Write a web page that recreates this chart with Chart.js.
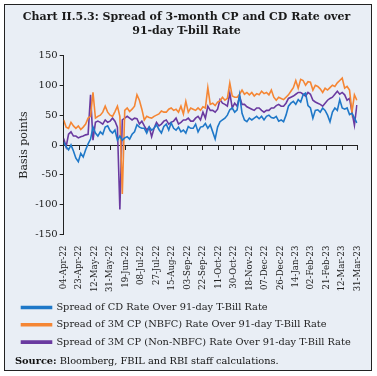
<!DOCTYPE html>
<html>
<head>
<meta charset="utf-8">
<script src="https://cdn.jsdelivr.net/npm/chart.js@4.4.0/dist/chart.umd.min.js"></script>
<style>
  html, body { margin: 0; padding: 0; background: #fff; }
  #box {
    position: absolute; left: 4px; top: 4px; width: 366px; height: 365px;
    border: 1.5px solid #222; background: #e9eef5;
  }
  #wrap { position: absolute; left: 0; top: 0; width: 366px; height: 352px; }
  #source {
    position: absolute; left: 10px; top: 350px;
    font-family: "DejaVu Serif", serif; font-size: 9.8px; color: #111;
  }
</style>
</head>
<body>
<div id="box">
  <div id="wrap"><canvas id="spreadChart"></canvas></div>
  <div id="source"><b>Source:</b> Bloomberg, FBIL and RBI staff calculations.</div>
</div>
<script>
// x tick labels, one every 19 days from 04-Apr-22
const tickLabels = ['04-Apr-22', '23-Apr-22', '12-May-22', '31-May-22', '19-Jun-22', '08-Jul-22',
  '27-Jul-22', '15-Aug-22', '03-Sep-22', '22-Sep-22', '11-Oct-22', '30-Oct-22', '18-Nov-22',
  '07-Dec-22', '26-Dec-22', '14-Jan-23', '02-Feb-23', '21-Feb-23', '12-Mar-23', '31-Mar-23'];

// observation days (days since 04-Apr-22), sampled every 3 days
const days = Array.from({ length: 121 }, (_, i) => i * 3);

// spread of CD rate over 91-day T-bill (bps)
const cdSpread = [
  5, -3, -8, 0, -10, -22, -28, -14, -20, -8,
  2, 10, 30, 20, 15, 22, 18, 30, 32, 24,
  20, 25, 8, 15, 8, 12, 14, 10, 18, 22,
  34, 30, 28, 28, 20, 30, 25, 28, 34, 26,
  20, 31, 35, 25, 37, 28, 25, 30, 22, 25,
  20, 31, 28, 28, 35, 22, 30, 31, 36, 28,
  34, 22, 10, 30, 39, 42, 45, 50, 59, 62,
  55, 59, 84, 53, 42, 39, 45, 42, 45, 48,
  44, 48, 42, 48, 50, 46, 45, 48, 40, 42,
  39, 50, 65, 70, 73, 68, 76, 72, 84, 87,
  66, 62, 45, 58, 59, 55, 62, 58, 50, 39,
  55, 62, 58, 76, 62, 60, 62, 51, 53, 45,
  37
];

// spread of 3M CP (NBFC) over 91-day T-bill (bps)
const cpNbfcSpread = [
  42, 30, 28, 38, 32, 28, 32, 26, 30, 35,
  45, 48, 88, 45, 48, 50, 55, 65, 55, 50,
  48, 56, 65, 48, -82, 58, 62, 56, 60, 65,
  84, 75, 60, 42, 48, 46, 45, 48, 50, 52,
  57, 55, 55, 60, 62, 58, 60, 55, 65, 52,
  73, 55, 62, 60, 58, 62, 58, 64, 62, 96,
  68, 70, 66, 72, 74, 80, 75, 78, 104, 82,
  80, 80, 85, 92, 85, 88, 84, 88, 82, 86,
  84, 90, 86, 88, 84, 92, 80, 75, 80, 78,
  76, 80, 84, 90, 96, 108, 95, 110, 108, 100,
  106, 105, 92, 100, 98, 94, 88, 95, 92, 96,
  100, 98, 104, 108, 112, 95, 98, 92, 55, 84,
  75
];

// spread of 3M CP (non-NBFC) over 91-day T-bill (bps)
const cpNonNbfcSpread = [
  11, -3, 18, 22, 15, 15, 12, 14, 15, 17,
  18, 84, 8, 38, 40, 38, 35, 42, 38, 40,
  45, 40, 30, -108, 42, 45, 48, 45, 42, 45,
  44, 35, 40, 32, 25, 30, 14, 28, 38, 32,
  35, 40, 42, 35, 38, 40, 45, 35, 38, 42,
  42, 45, 40, 40, 45, 48, 42, 55, 45, 65,
  58, 58, 55, 60, 76, 70, 68, 65, 87, 62,
  70, 65, 82, 68, 68, 64, 62, 60, 58, 62,
  62, 58, 55, 58, 58, 62, 62, 66, 68, 65,
  65, 70, 78, 80, 82, 85, 88, 88, 85, 82,
  88, 85, 75, 72, 70, 68, 65, 70, 75, 78,
  80, 85, 90, 85, 88, 84, 75, 78, 55, 33,
  67
];

const yTicks = [150, 100, 50, 0, -50, -100, -150];

function toPoints(vals) {
  return vals.map((v, i) => ({ x: days[i], y: v }));
}

const serif = '"DejaVu Serif", serif';
Chart.defaults.font.family = serif;
Chart.defaults.color = '#222';

const ctx = document.getElementById('spreadChart').getContext('2d');
new Chart(ctx, {
  type: 'line',
  data: {
    datasets: [
      { label: 'Spread of CD Rate Over 91-day T-Bill Rate', data: toPoints(cdSpread),
        borderColor: '#1f78c8', backgroundColor: '#1f78c8' },
      { label: 'Spread of 3M CP (NBFC) Rate Over 91-day T-Bill Rate', data: toPoints(cpNbfcSpread),
        borderColor: '#f58634', backgroundColor: '#f58634' },
      { label: 'Spread of 3M CP (Non-NBFC) Rate Over 91-day T-Bill Rate', data: toPoints(cpNonNbfcSpread),
        borderColor: '#6a3aa0', backgroundColor: '#6a3aa0' }
    ]
  },
  options: {
    responsive: true,
    maintainAspectRatio: false,
    animation: false,
    elements: {
      point: { radius: 0 },
      line: { borderWidth: 1.6, tension: 0 }
    },
    layout: { padding: { left: 9, right: 12, top: 2, bottom: 0 } },
    plugins: {
      title: {
        display: true,
        text: ['Chart II.5.3: Spread of 3-month CP and CD Rate over', '91-day T-bill Rate'],
        font: { size: 11, weight: 'bold', family: serif },
        color: '#1a1a1a',
        padding: { top: 4, bottom: 18 },
        lineHeight: 1.25
      },
      legend: {
        position: 'bottom',
        align: 'start',
        labels: {
          boxWidth: 30,
          boxHeight: 2,
          padding: 7.5,
          font: { size: 9.8, family: serif },
          color: '#222'
        }
      },
      tooltip: { enabled: false }
    },
    scales: {
      x: {
        type: 'linear',
        min: 0,
        max: 361,
        afterBuildTicks: (s) => { s.ticks = tickLabels.map((t, i) => ({ value: i * 19 })); },
        ticks: {
          minRotation: 90,
          maxRotation: 90,
          padding: 3,
          font: { size: 8.6 },
          callback: (v, i) => tickLabels[i]
        },
        grid: { display: false },
        border: { display: false }
      },
      xZero: {
        type: 'linear',
        axis: 'x',
        position: { y: 0 },
        min: 0,
        max: 361,
        afterBuildTicks: (s) => { s.ticks = tickLabels.map((t, i) => ({ value: i * 19 })); },
        ticks: { display: false },
        grid: { drawOnChartArea: false, drawTicks: true, tickLength: 4, color: '#222', lineWidth: 1 },
        border: { display: true, color: '#222', width: 1 }
      },
      y: {
        min: -150,
        max: 150,
        afterBuildTicks: (s) => { s.ticks = yTicks.map(v => ({ value: v })); },
        ticks: { font: { size: 10 }, padding: 2 },
        grid: { drawOnChartArea: false, tickLength: 4, color: '#222' },
        border: { display: true, color: '#222', width: 1 },
        title: { display: true, text: 'Basis points', font: { size: 11 }, padding: { bottom: 2 } }
      }
    }
  }
});
</script>
</body>
</html>
